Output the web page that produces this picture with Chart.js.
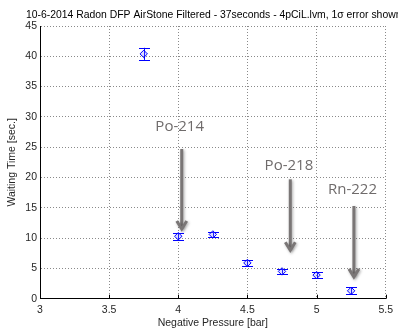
<!DOCTYPE html>
<html>
<head>
<meta charset="utf-8">
<script src="https://cdn.jsdelivr.net/npm/chart.js@4.4.0/dist/chart.umd.min.js"></script>
<style>
  html, body { margin: 0; padding: 0; background: #fff; }
  #wrap { width: 398px; height: 331px; }
</style>
</head>
<body>
<div id="wrap"><canvas id="chart"></canvas></div>
<script>
// Measurements
const pressure = [3.75, 4.0, 4.25, 4.5, 4.75, 5.0, 5.25];
const waitTime = [40.4, 10.3, 10.6, 5.9, 4.5, 3.9, 1.3];
const sigma    = [1.0, 0.6, 0.4, 0.5, 0.4, 0.5, 0.6];

// Axis ticks
const xTicks = [3, 3.5, 4, 4.5, 5, 5.5];
const yTicks = [0, 5, 10, 15, 20, 25, 30, 35, 40, 45];

// Peak labels (data units)
const peakNames   = ['Po-214', 'Po-218', 'Rn-222'];
const labelX      = [4.01, 4.80, 5.26];
const labelY      = [28.3, 22.0, 17.9];
const arrowX      = [4.025, 4.81, 5.27];
const arrowTop    = [24.7, 19.7, 15.3];
const arrowBottom = [11.5, 8.0, 3.6];

const titleText = '10-6-2014 Radon DFP AirStone Filtered - 37seconds - 4pCiL.lvm, 1\u03c3 error shown';

// error bars behind the markers
const errorBars = {
  id: 'errorBars',
  beforeDatasetsDraw(chart) {
    const {ctx, scales: {x, y}} = chart;
    ctx.save();
    ctx.strokeStyle = '#0000ff';
    ctx.lineWidth = 1;
    pressure.forEach((p, i) => {
      const px = Math.round(x.getPixelForValue(p)) + 0.5;
      const top = y.getPixelForValue(waitTime[i] + sigma[i]);
      const bot = y.getPixelForValue(waitTime[i] - sigma[i]);
      ctx.beginPath();
      ctx.moveTo(px, top); ctx.lineTo(px, bot);
      ctx.moveTo(px - 5.5, Math.round(top) + 0.5); ctx.lineTo(px + 5.5, Math.round(top) + 0.5);
      ctx.moveTo(px - 5.5, Math.round(bot) + 0.5); ctx.lineTo(px + 5.5, Math.round(bot) + 0.5);
      ctx.stroke();
    });
    ctx.restore();
  }
};

// title, inward ticks, peak labels and arrows
const extras = {
  id: 'extras',
  afterDraw(chart) {
    const {ctx, scales: {x, y}, chartArea} = chart;
    ctx.save();
    ctx.font = "10.4px 'Liberation Sans', Arial, sans-serif";
    ctx.fillStyle = '#000';
    ctx.textBaseline = 'middle';
    ctx.textAlign = 'left';
    ctx.fillText(titleText, 26, 15.5);

    ctx.strokeStyle = '#000';
    ctx.lineWidth = 1;
    ctx.beginPath();
    xTicks.forEach(t => {
      const px = Math.round(x.getPixelForValue(t)) + 0.5;
      ctx.moveTo(px, chartArea.bottom);
      ctx.lineTo(px, chartArea.bottom - 4);
    });
    ctx.stroke();

    ctx.font = "15px 'Open Sans', sans-serif";
    ctx.fillStyle = '#6f6b6b';
    ctx.textAlign = 'center';
    peakNames.forEach((name, i) => {
      ctx.fillText(name, x.getPixelForValue(labelX[i]), y.getPixelForValue(labelY[i]));
    });

    ctx.strokeStyle = '#7a7676';
    ctx.lineWidth = 3;
    ctx.lineCap = 'butt';
    ctx.shadowColor = 'rgba(0,0,0,0.35)';
    ctx.shadowBlur = 3;
    ctx.shadowOffsetX = 1;
    ctx.shadowOffsetY = 1;
    arrowX.forEach((ax, i) => {
      const px = x.getPixelForValue(ax);
      const y0 = y.getPixelForValue(arrowTop[i]);
      const y1 = y.getPixelForValue(arrowBottom[i]);
      ctx.beginPath();
      ctx.moveTo(px, y0);
      ctx.lineTo(px, y1 - 1);
      ctx.stroke();
      ctx.beginPath();
      ctx.moveTo(px - 5, y1 - 8);
      ctx.lineTo(px, y1);
      ctx.lineTo(px + 5, y1 - 8);
      ctx.stroke();
    });
    ctx.restore();
  }
};

const tickFont = {family: "'Liberation Sans', Arial, sans-serif", size: 10.5};

new Chart(document.getElementById('chart'), {
  type: 'scatter',
  data: {
    datasets: [{
      data: pressure.map((p, i) => ({x: p, y: waitTime[i]})),
      pointStyle: 'rectRot',
      pointRadius: 3.7,
      pointHoverRadius: 3.7,
      borderColor: '#0000ff',
      backgroundColor: 'rgba(120,120,255,0.25)',
      borderWidth: 1
    }]
  },
  options: {
    responsive: true,
    maintainAspectRatio: false,
    animation: false,
    layout: {padding: {top: 26, right: 10, left: 0, bottom: 0}},
    plugins: {legend: {display: false}, tooltip: {enabled: false}},
    scales: {
      x: {
        type: 'linear',
        min: 3, max: 5.5,
        afterBuildTicks: s => { s.ticks = xTicks.map(v => ({value: v})); },
        afterFit: s => { s.height = 32.3; },
        ticks: {font: tickFont, color: '#262626', padding: 5, callback: v => String(v)},
        grid: {color: '#8a8a8a', drawTicks: false, lineWidth: 1},
        border: {color: '#000', width: 1, dash: [1, 2]},
        title: {display: true, text: 'Negative Pressure [bar]', font: tickFont, color: '#262626', padding: {top: 0, bottom: 2}}
      },
      y: {
        min: 0, max: 45,
        afterBuildTicks: s => { s.ticks = yTicks.map(v => ({value: v})); },
        afterFit: s => { s.width = 40; },
        ticks: {font: tickFont, color: '#262626', padding: 3, callback: v => String(v)},
        grid: {color: '#8a8a8a', drawTicks: false, lineWidth: 1},
        border: {color: '#000', width: 1, dash: [1, 2]},
        title: {display: true, text: 'Waiting Time [sec.]', font: tickFont, color: '#262626', padding: {top: 6, bottom: 0}}
      }
    }
  },
  plugins: [errorBars, extras]
});
</script>
</body>
</html>
